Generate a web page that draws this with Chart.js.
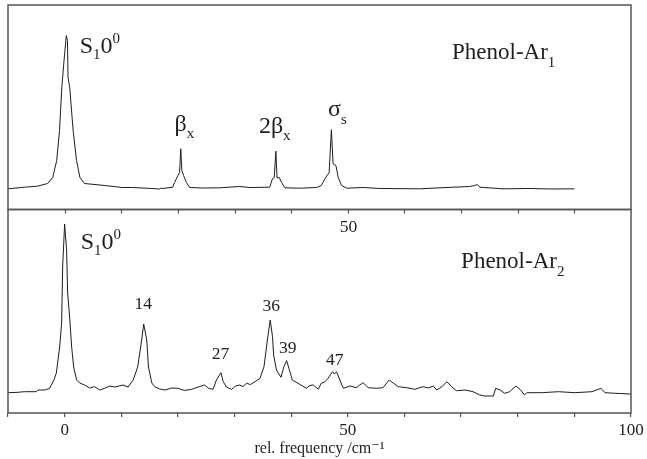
<!DOCTYPE html>
<html>
<head>
<meta charset="utf-8">
<script src="https://cdn.jsdelivr.net/npm/chart.js@4"></script>
<style>
  body { margin: 0; background: #fff; }
  #wrap { position: relative; width: 647px; height: 459px; }
  #wrap canvas { position: absolute; left: 0; top: 0; }
</style>
</head>
<body>
<div id="wrap">
  <canvas id="ar1Canvas" width="647" height="459"></canvas>
  <canvas id="ar2Canvas" width="647" height="459"></canvas>
</div>
<script>
// frequency axis (cm-1)
const freqMin = -10;
const freqMax = 100;
const freqStep = 10;
const freqLabelEvery = 50;
const axisTitle = 'rel. frequency /cm\u207B\u00B9';

// Phenol-Ar1 spectrum: [rel. frequency, intensity (arb.)]
const ar1Spectrum = [
  [-10, 20.7], [-7.1, 22.3], [-4.8, 23.3], [-3.0, 26], [-2.1, 32], [-1.4, 49], [-0.9, 79],
  [-0.5, 122], [0, 156], [0.3, 174], [0.5, 169], [0.6, 132], [0.9, 122], [1.5, 79], [2.1, 49],
  [2.7, 32], [3.5, 26], [7.1, 24], [10.2, 22], [12.0, 22], [15.4, 21], [16.8, 20.5], [17.0, 21.5],
  [17.3, 21], [19.1, 22.3], [19.4, 27], [20.0, 34], [20.3, 37], [20.5, 60.7], [20.7, 39],
  [21.0, 34], [21.5, 27], [22.1, 22], [24.5, 21.5], [27.4, 21.7], [30.9, 23], [32.7, 22],
  [36.2, 22.3], [36.7, 30.7], [37.0, 31.7], [37.3, 58.3], [37.5, 31.7], [37.9, 32], [38.3, 27],
  [38.9, 21.7], [41.5, 21.3], [44.5, 22], [45.3, 24], [46.1, 32], [46.7, 37], [47.1, 79.7],
  [47.4, 45.7], [47.9, 44], [48.3, 32], [48.9, 24], [49.8, 21.3], [52.7, 22], [55.7, 21],
  [62.7, 20.7], [68.6, 22.3], [71.5, 23], [72.4, 24], [72.9, 25], [73.3, 22.3], [77.4, 20.7],
  [82, 21], [86, 20.5], [90, 20.7]
];

// Phenol-Ar2 spectrum: [rel. frequency, intensity (arb.)]
const ar2Spectrum = [
  [-10, 20.3], [-8.25, 20.7], [-7.1, 21.3], [-5.0, 21.3], [-4.7, 23], [-3.5, 23], [-2.65, 24.7],
  [-1.9, 33], [-1.47, 39.7], [-0.88, 66], [-0.53, 90], [-0.35, 146], [0, 189], [0.35, 163],
  [0.53, 120], [0.88, 96], [1.24, 66], [1.59, 46], [2.12, 33], [2.65, 30], [3.53, 28], [4.4, 25],
  [5.3, 26.3], [6.2, 23], [7.07, 24.7], [8.0, 27], [8.83, 26], [10.3, 28], [11.2, 26], [12.1, 33],
  [12.9, 46], [13.6, 73], [13.96, 89], [14.5, 73], [14.8, 46], [15.4, 30], [15.9, 26.3],
  [16.8, 24], [17.7, 23], [18.9, 25], [20.0, 24.7], [21.2, 22.5], [22.4, 23.7], [23.6, 26],
  [24.7, 28], [25.5, 24.5], [26.2, 23.7], [26.8, 33], [27.6, 40.3], [28.0, 31.3], [28.6, 25.7],
  [29.5, 23.7], [30.2, 27], [30.9, 28], [31.5, 26.5], [32.1, 29.7], [32.8, 28.5], [33.6, 31.3],
  [34.5, 34.7], [35.2, 46.3], [35.8, 73], [36.3, 93], [36.7, 76.3], [36.9, 58], [37.4, 43],
  [38.2, 35.7], [38.7, 46.3], [39.2, 52.3], [39.6, 44.7], [40.2, 33], [41.2, 29.7], [42.0, 27],
  [42.7, 24.7], [43.3, 27.5], [43.9, 28], [44.8, 23.7], [45.3, 29.7], [45.9, 31], [46.5, 34.7],
  [47.3, 41.3], [47.6, 39], [48.0, 41.3], [48.6, 33], [49.2, 24.7], [50.4, 27], [51.5, 25.3],
  [52.1, 28], [52.7, 30.3], [53.6, 25.3], [55.1, 24.7], [56.2, 25.3], [57.3, 33], [58.0, 30],
  [58.9, 26.3], [60.4, 25.3], [61.8, 23.7], [63.3, 26.3], [64.2, 25], [65.1, 27], [65.7, 23],
  [66.6, 26.3], [67.5, 31.3], [68.3, 26.3], [69.2, 22.3], [70.7, 23], [72.1, 21.3], [73.3, 18],
  [74.2, 17], [75.7, 17], [76.1, 24.7], [76.9, 23], [77.7, 19.7], [78.6, 21.3], [79.0, 23.7],
  [79.7, 27], [80.4, 23.7], [81.2, 18], [81.6, 20.3], [84.2, 20.3], [87.2, 21.3], [90.1, 20.3],
  [93.1, 21.3], [94.7, 24.7], [95.4, 20.3], [97.2, 19.7], [100, 19]
];

// text annotations, anchored in data units
const ar1Notes = [
  { at: [2.65, 157], parts: [['S', 24], ['1', 15, 6], ['0', 24], ['0', 15, -10]] },
  { at: [19.4, 79], parts: [['\u03B2', 24], ['x', 15, 7]] },
  { at: [34.3, 77], parts: [['2\u03B2', 24], ['x', 15, 7]] },
  { at: [46.5, 94], parts: [['\u03C3', 24], ['s', 15, 8]] },
  { at: [68.4, 151], parts: [['Phenol-Ar', 23], ['1', 15, 8]] }
];
const ar2Notes = [
  { at: [2.83, 164], parts: [['S', 24], ['1', 15, 6], ['0', 24], ['0', 15, -10]] },
  { at: [70.0, 145], parts: [['Phenol-Ar', 23], ['2', 15, 8]] },
  { at: [50.1, 181], parts: [['50', 17.5]], center: true },
  { at: [13.9, 104], parts: [['14', 17.5]], center: true },
  { at: [27.5, 54], parts: [['27', 17.5]], center: true },
  { at: [36.5, 102], parts: [['36', 17.5]], center: true },
  { at: [39.4, 60], parts: [['39', 17.5]], center: true },
  { at: [47.7, 48], parts: [['47', 17.5]], center: true }
];

const serif = '"Liberation Serif", "DejaVu Serif", serif';
const frameColor = '#555';
const inkColor = '#1e1e1e';

function drawNote(ctx, chart, note) {
  const xs = chart.scales.x, ys = chart.scales.y;
  let x = xs.getPixelForValue(note.at[0]);
  const y = ys.getPixelForValue(note.at[1]);
  let total = 0;
  note.parts.forEach(p => {
    ctx.font = p[1] + 'px ' + serif;
    total += ctx.measureText(p[0]).width;
  });
  if (note.center) x -= total / 2;
  note.parts.forEach(p => {
    ctx.font = p[1] + 'px ' + serif;
    ctx.fillText(p[0], x, y + (p[2] || 0));
    x += ctx.measureText(p[0]).width;
  });
}

const panelFrame = {
  id: 'panelFrame',
  afterDraw(chart, args, opts) {
    const ctx = chart.ctx;
    const a = chart.chartArea;
    ctx.save();
    ctx.strokeStyle = frameColor;
    ctx.lineWidth = 1.5;
    ctx.strokeRect(a.left, a.top, a.right - a.left, a.bottom - a.top);
    if (opts.innerTopTicks) {
      const xs = chart.scales.x;
      ctx.lineWidth = 1.2;
      ctx.beginPath();
      xs.ticks.forEach(t => {
        if (t.value <= freqMin || t.value >= freqMax) return;
        const px = Math.round(xs.getPixelForValue(t.value)) + 0.5;
        ctx.moveTo(px, a.top);
        ctx.lineTo(px, a.top + 4);
      });
      ctx.stroke();
    }
    ctx.fillStyle = inkColor;
    ctx.textBaseline = 'alphabetic';
    (opts.notes || []).forEach(n => drawNote(ctx, chart, n));
    ctx.restore();
  }
};

function lineDataset(spectrum) {
  return {
    data: spectrum.map(([x, y]) => ({ x, y })),
    borderColor: inkColor,
    borderWidth: 1,
    pointRadius: 0,
    tension: 0,
    fill: false
  };
}

// top panel: Phenol-Ar1
new Chart(document.getElementById('ar1Canvas'), {
  type: 'line',
  data: { datasets: [lineDataset(ar1Spectrum)] },
  options: {
    responsive: false,
    animation: false,
    layout: { padding: { left: 8, right: 16, top: 5, bottom: 249.5 } },
    plugins: {
      legend: { display: false },
      tooltip: { enabled: false },
      panelFrame: { notes: ar1Notes }
    },
    scales: {
      x: { type: 'linear', min: freqMin, max: freqMax, display: false },
      y: { min: 0, max: 204.5, display: false }
    }
  },
  plugins: [panelFrame]
});

// bottom panel: Phenol-Ar2, carries the frequency axis
new Chart(document.getElementById('ar2Canvas'), {
  type: 'line',
  data: { datasets: [lineDataset(ar2Spectrum)] },
  options: {
    responsive: false,
    animation: false,
    layout: { padding: { left: 8, right: 16, top: 209.5, bottom: 0 } },
    plugins: {
      legend: { display: false },
      tooltip: { enabled: false },
      panelFrame: { notes: ar2Notes, innerTopTicks: true }
    },
    scales: {
      x: {
        type: 'linear',
        min: freqMin,
        max: freqMax,
        afterFit: (scale) => { scale.height = 46; },
        border: { display: false },
        grid: { drawOnChartArea: false, drawTicks: true, tickLength: 4, color: frameColor, lineWidth: 1.2 },
        ticks: {
          stepSize: freqStep,
          autoSkip: false,
          maxRotation: 0,
          padding: 3,
          color: inkColor,
          font: { family: serif, size: 17 },
          callback: (v) => (v % freqLabelEvery === 0 ? String(v) : '')
        },
        title: {
          display: true,
          text: axisTitle,
          color: inkColor,
          font: { family: serif, size: 16 },
          padding: { top: 0, bottom: 1 }
        }
      },
      y: { min: 0, max: 203.5, display: false }
    }
  },
  plugins: [panelFrame]
});
</script>
</body>
</html>
